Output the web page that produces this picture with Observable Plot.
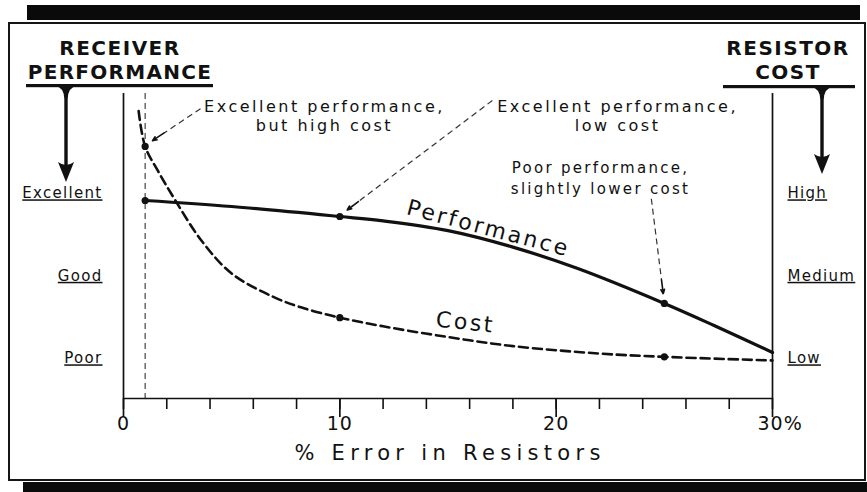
<!DOCTYPE html>
<html><head><meta charset="utf-8">
<script src="https://cdn.jsdelivr.net/npm/d3@7"></script>
<script src="https://cdn.jsdelivr.net/npm/@observablehq/plot@0.6"></script>
<style>
html,body{margin:0;padding:0;background:#fff;}
#wrap{position:relative;width:867px;height:492px;overflow:hidden;background:#fff;font-family:"DejaVu Sans",sans-serif;}
.band{position:absolute;background:#0a0a0a;}
.box{position:absolute;border:2px solid #151515;box-sizing:border-box;}
#chart{position:absolute;left:0;top:0;}
#deco{position:absolute;left:0;top:0;pointer-events:none;}
g[aria-description="level-left"] text, g[aria-description="level-right"] text{text-decoration:underline;text-decoration-thickness:2px;text-underline-offset:3px;letter-spacing:1.3px;}
g[aria-description="notes"] text{letter-spacing:2.5px;}
g[aria-description="note-small"] text{letter-spacing:2.3px;}
g[aria-description="tick-labels"] text{letter-spacing:1px;}
g[aria-description="x-label"] text{letter-spacing:5.3px;}
g[aria-description="series-label"] text{letter-spacing:2.6px;}
</style>
</head><body>
<div id="wrap">
  <div class="band" style="left:27px;top:5px;width:833px;height:15px"></div>
  <div class="box" style="left:8px;top:22px;width:858px;height:459px"></div>
  <div class="band" style="left:23px;top:482px;width:844px;height:10px"></div>
  <div id="chart"></div>
  <svg id="deco" width="867" height="492" viewBox="0 0 867 492">
    <g font-family="DejaVu Sans" font-weight="bold" font-size="20" fill="#111" text-anchor="middle" dominant-baseline="central">
      <text x="120" y="48" letter-spacing="1.5">RECEIVER</text>
      <text x="120" y="72" letter-spacing="1.3">PERFORMANCE</text>
      <text x="788" y="48" letter-spacing="1.5">RESISTOR</text>
      <text x="788" y="72" letter-spacing="1.5">COST</text>
    </g>
    <g fill="#111">
      <rect x="26" y="84" width="187" height="3.2"/>
      <path d="M55,86 Q64,87 64.3,99 L64.3,168 L67.7,168 L67.7,99 Q68,87 77,86 Z"/>
      <path d="M66,182 L58,162 Q66,168 74,162 Z"/>
      <rect x="723" y="85" width="132" height="3.2"/>
      <path d="M811,87 Q820,88 820.3,100 L820.3,160 L823.7,160 L823.7,100 Q824,88 833,87 Z"/>
      <path d="M822,174 L814,154 Q822,160 830,154 Z"/>
    </g>
  </svg>
</div>
<script>
// ---- data ----
const perfX = [1, 5, 10, 12, 15, 18, 21, 25, 27.3, 30];
const perfY = [2.915, 2.842, 2.721, 2.668, 2.55, 2.35, 2.09, 1.667, 1.40, 1.073];
const costX = [0.7, 1, 1.6, 2.4, 3.6, 5, 6.9, 8.2, 10, 12, 15, 18, 22, 25, 30];
const costY = [4.0, 3.57, 3.27, 2.915, 2.43, 2.03, 1.75, 1.62, 1.495, 1.39, 1.26, 1.15, 1.06, 1.02, 0.976];
const markedX = [1, 10, 25];
const minorTicks = [0, 2, 4, 6, 8, 10, 12, 14, 16, 18, 20, 22, 24, 26, 28, 30];
const majorTicks = [0, 10, 20, 30];
const tickLabels = ["0", "10", "20", "30%"];
const levelValues = [1, 2, 3];
const performanceLevels = ["Poor", "Good", "Excellent"];
const costLevels = ["Low", "Medium", "High"];
const xTitle = "% Error in Resistors";
const seriesNames = ["Performance", "Cost"];
const seriesLabelX = [16.87, 15.81];
const seriesLabelY = [2.576, 1.436];
const seriesLabelRotate = [14.7, 6];
const noteTexts = ["Excellent performance,\nbut high cost", "Excellent performance,\nlow cost", "Poor performance,\nslightly lower cost"];
const noteX = [9.29, 22.84, 22.05];
const noteY = [3.945, 3.945, 3.2];
const arrowFromX = [3.56, 17.05, 24.4];
const arrowFromY = [4.027, 4.127, 2.936];
const arrowToX = [1.34, 10.34, 24.95];
const arrowToY = [3.64, 2.80, 1.784];

// ---- layout ----
const W = 867, H = 492, mL = 123, mR = 95, mT = 93, mB = 94;
const xDomain = [0, 30], yDomain = [0.515, 4.212];
const kx = (W - mL - mR) / (xDomain[1] - xDomain[0]);
const ky = (H - mT - mB) / (yDomain[1] - yDomain[0]);

const perf = perfX.map((x, i) => ({x, y: perfY[i]}));
const cost = costX.map((x, i) => ({x, y: costY[i]}));
const perfDots = markedX.map(x => perf.find(d => d.x === x));
const costDots = markedX.map(x => cost.find(d => d.x === x));
const levels = levelValues.map((v, i) => ({v, left: performanceLevels[i], right: costLevels[i]}));
const ticks = majorTicks.map((v, i) => ({v, label: tickLabels[i]}));
const notes = noteTexts.map((t, i) => ({t, x: noteX[i], y: noteY[i]}));
const arrows = arrowFromX.map((x1, i) => {
  const x2 = arrowToX[i], y1 = arrowFromY[i], y2 = arrowToY[i];
  const L = Math.hypot((x2 - x1) * kx, (y2 - y1) * ky);
  const t = 14 / L;
  return {x1, y1, x2, y2, hx: x2 - (x2 - x1) * t, hy: y2 - (y2 - y1) * t};
});
const seriesLabels = seriesNames.map((n, i) => ({n, x: seriesLabelX[i], y: seriesLabelY[i], r: seriesLabelRotate[i]}));

const ink = "#111";
const chart = Plot.plot({
  width: W, height: H,
  marginLeft: mL, marginRight: mR, marginTop: mT, marginBottom: mB,
  x: {domain: xDomain, axis: null},
  y: {domain: yDomain, axis: null},
  style: {background: "transparent", color: ink, fontFamily: "DejaVu Sans"},
  marks: [
    Plot.ruleX([1], {stroke: "#333", strokeWidth: 1.1, strokeDasharray: "6,4"}),
    Plot.ruleX([0, 30], {stroke: ink, strokeWidth: 1.7}),
    Plot.ruleY([yDomain[0]], {stroke: ink, strokeWidth: 1.7}),
    Plot.axisX(minorTicks, {anchor: "bottom", tickSize: 11, tickFormat: () => "", stroke: ink, strokeWidth: 1.6}),
    Plot.axisX(majorTicks, {anchor: "bottom", tickSize: 19, tickFormat: () => "", stroke: ink, strokeWidth: 1.7}),
    Plot.text(ticks.filter(d => d.v < 30), {x: "v", text: "label", frameAnchor: "bottom", dy: 31, fontSize: 19, fill: ink, ariaDescription: "tick-labels"}),
    Plot.text(ticks.filter(d => d.v === 30), {x: "v", text: "label", frameAnchor: "bottom", dy: 31, dx: -15, textAnchor: "start", fontSize: 19, fill: ink, ariaDescription: "tick-labels"}),
    Plot.text([xTitle], {text: d => d, frameAnchor: "bottom", dy: 61, dx: 2, fontSize: 21, fill: ink, ariaDescription: "x-label"}),
    Plot.text(levels, {y: "v", text: "left", frameAnchor: "left", dx: -21, textAnchor: "end", fontSize: 15, fill: ink, ariaDescription: "level-left"}),
    Plot.text(levels, {y: "v", text: "right", frameAnchor: "right", dx: 15, textAnchor: "start", fontSize: 15, fill: ink, ariaDescription: "level-right"}),
    Plot.line(cost, {x: "x", y: "y", curve: "catmull-rom", stroke: ink, strokeWidth: 2.6, strokeDasharray: "9,5"}),
    Plot.line(perf, {x: "x", y: "y", curve: "catmull-rom", stroke: ink, strokeWidth: 3.2}),
    Plot.dot(perfDots, {x: "x", y: "y", r: 3.6, fill: ink}),
    Plot.dot(costDots, {x: "x", y: "y", r: 3.6, fill: ink}),
    Plot.link(arrows, {x1: "x1", y1: "y1", x2: "hx", y2: "hy", stroke: "#333", strokeWidth: 1.2, strokeDasharray: "6,4"}),
    Plot.arrow(arrows, {x1: "hx", y1: "hy", x2: "x2", y2: "y2", stroke: "#111", strokeWidth: 1.6, headLength: 13, headAngle: 45}),
    Plot.text(notes.slice(0, 2), {x: "x", y: "y", text: "t", fontSize: 16, lineHeight: 1.15, fill: ink, ariaDescription: "notes"}),
    Plot.text(notes.slice(2), {x: "x", y: "y", text: "t", fontSize: 15, lineHeight: 1.4, fill: ink, ariaDescription: "note-small"}),
    ...seriesLabels.map(s => Plot.text([s], {x: "x", y: "y", text: "n", rotate: s.r, fontSize: 22, fill: ink, ariaDescription: "series-label"}))
  ]
});
document.getElementById("chart").appendChild(chart);
</script>
</body></html>
